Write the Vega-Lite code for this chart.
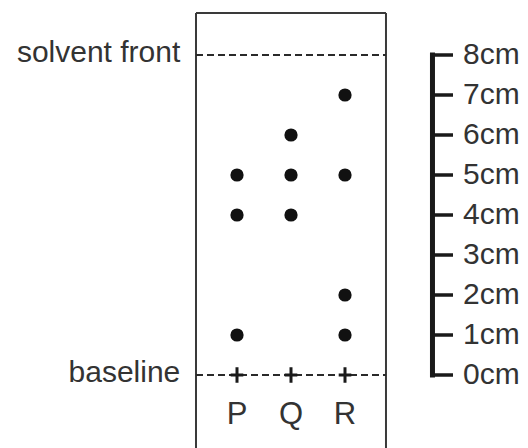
{
  "$schema": "https://vega.github.io/schema/vega-lite/v6.json",
  "width": 528,
  "height": 448,
  "autosize": {"type": "fit", "contains": "padding"},
  "padding": 0,
  "background": "white",
  "config": {"view": {"stroke": null}},
  "datasets": {
    "spots": [
      {"sample": "P", "track": 1, "cm": 1},
      {"sample": "P", "track": 1, "cm": 4},
      {"sample": "P", "track": 1, "cm": 5},
      {"sample": "Q", "track": 2, "cm": 4},
      {"sample": "Q", "track": 2, "cm": 5},
      {"sample": "Q", "track": 2, "cm": 6},
      {"sample": "R", "track": 3, "cm": 1},
      {"sample": "R", "track": 3, "cm": 2},
      {"sample": "R", "track": 3, "cm": 5},
      {"sample": "R", "track": 3, "cm": 7}
    ],
    "lanes": [
      {"sample": "P", "track": 1},
      {"sample": "Q", "track": 2},
      {"sample": "R", "track": 3}
    ],
    "ruler": [
      {"cm": 0, "label": "0cm"},
      {"cm": 1, "label": "1cm"},
      {"cm": 2, "label": "2cm"},
      {"cm": 3, "label": "3cm"},
      {"cm": 4, "label": "4cm"},
      {"cm": 5, "label": "5cm"},
      {"cm": 6, "label": "6cm"},
      {"cm": 7, "label": "7cm"},
      {"cm": 8, "label": "8cm"}
    ],
    "lines": [
      {"name": "solvent front", "cm": 8},
      {"name": "baseline", "cm": 0}
    ]
  },
  "layer": [
    {
      "data": {"values": [{"side": "left", "pos": 0.2407}, {"side": "right", "pos": 3.759}]},
      "mark": {"type": "rule", "stroke": "#3a3a3a", "strokeWidth": 2, "clip": true},
      "encoding": {
        "x": {"field": "pos", "type": "quantitative", "scale": {"domain": [-3.3889, 6.3889], "nice": false, "zero": false}, "axis": null},
        "y": {"datum": 9.05, "type": "quantitative", "scale": {"domain": [-1.825, 9.375], "nice": false, "zero": false}, "axis": null},
        "y2": {"datum": -2.5}
      }
    },
    {
      "data": {"values": [{"edge": "top"}]},
      "mark": {"type": "rule", "stroke": "#3a3a3a", "strokeWidth": 2},
      "encoding": {
        "x": {"datum": 0.2407, "type": "quantitative"},
        "x2": {"datum": 3.759},
        "y": {"datum": 9.05, "type": "quantitative"}
      }
    },
    {
      "data": {"name": "lines"},
      "mark": {"type": "rule", "stroke": "#2a2a2a", "strokeWidth": 1.8, "strokeDash": [7, 4]},
      "encoding": {
        "x": {"datum": 0.2407, "type": "quantitative"},
        "x2": {"datum": 3.759},
        "y": {"field": "cm", "type": "quantitative"}
      }
    },
    {
      "data": {"name": "lines"},
      "mark": {"type": "text", "align": "right", "baseline": "middle", "font": "Liberation Sans", "fontSize": 30, "color": "#333333", "dy": -2},
      "encoding": {
        "x": {"datum": -0.05, "type": "quantitative"},
        "y": {"field": "cm", "type": "quantitative"},
        "text": {"field": "name"}
      }
    },
    {
      "data": {"name": "lanes"},
      "mark": {"type": "point", "shape": "M-0.9,0H0.9M0,-1.1V1.1", "filled": false, "size": 196, "stroke": "#1a1a1a", "strokeWidth": 3, "opacity": 1},
      "encoding": {
        "x": {"field": "track", "type": "quantitative"},
        "y": {"datum": 0, "type": "quantitative"}
      }
    },
    {
      "data": {"name": "lanes"},
      "mark": {"type": "text", "align": "center", "baseline": "middle", "font": "Liberation Sans", "fontSize": 31, "color": "#333333"},
      "encoding": {
        "x": {"field": "track", "type": "quantitative"},
        "y": {"datum": -1.0, "type": "quantitative"},
        "text": {"field": "sample"}
      }
    },
    {
      "data": {"name": "spots"},
      "mark": {"type": "circle", "size": 175, "color": "#111111", "opacity": 1},
      "encoding": {
        "x": {"field": "track", "type": "quantitative"},
        "y": {"field": "cm", "type": "quantitative"}
      }
    },
    {
      "data": {"values": [{"part": "bar"}]},
      "mark": {"type": "rule", "stroke": "#1a1a1a", "strokeWidth": 5},
      "encoding": {
        "x": {"datum": 4.62, "type": "quantitative"},
        "y": {"datum": -0.06, "type": "quantitative"},
        "y2": {"datum": 8.06}
      }
    },
    {
      "data": {"name": "ruler"},
      "mark": {"type": "rule", "stroke": "#1a1a1a", "strokeWidth": 3.5},
      "encoding": {
        "x": {"datum": 4.62, "type": "quantitative"},
        "x2": {"datum": 5.0},
        "y": {"field": "cm", "type": "quantitative"}
      }
    },
    {
      "data": {"name": "ruler"},
      "mark": {"type": "text", "align": "left", "baseline": "middle", "font": "Liberation Sans", "fontSize": 30, "color": "#333333"},
      "encoding": {
        "x": {"datum": 5.185, "type": "quantitative"},
        "y": {"field": "cm", "type": "quantitative"},
        "text": {"field": "label"}
      }
    }
  ]
}
